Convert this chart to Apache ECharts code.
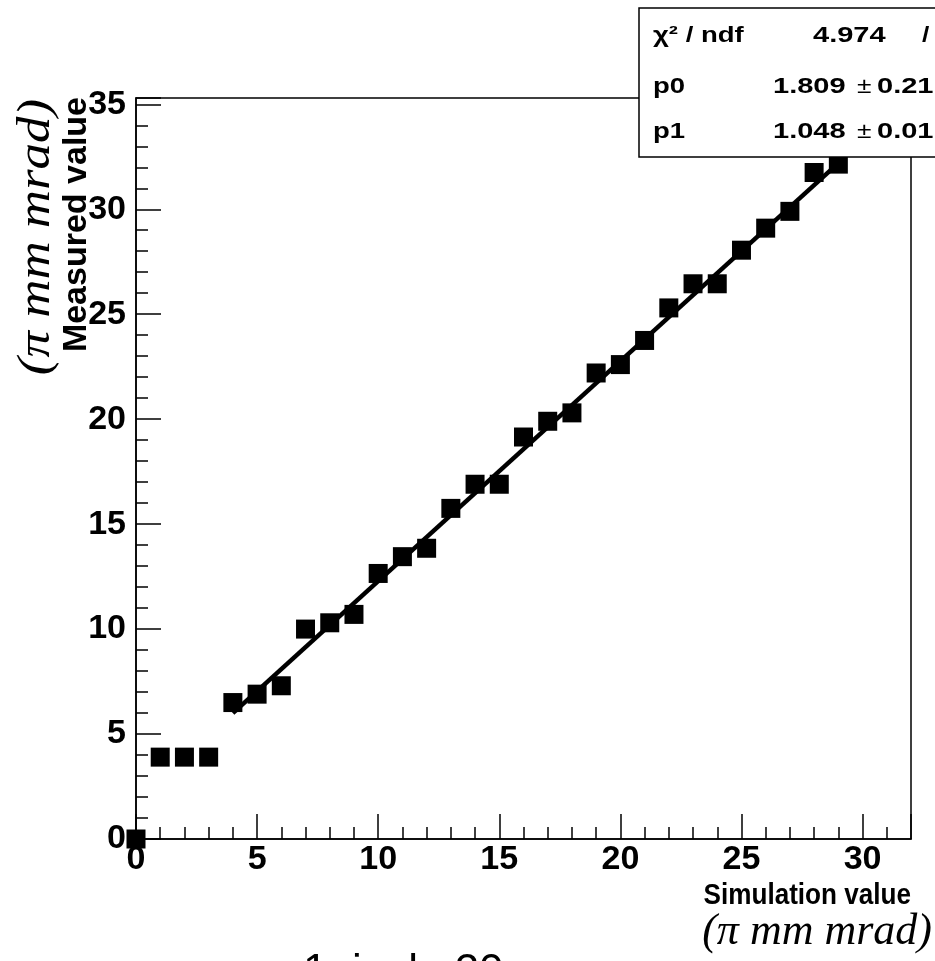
<!DOCTYPE html>
<html><head><meta charset="utf-8">
<script src="https://cdn.jsdelivr.net/npm/echarts@6/dist/echarts.min.js"></script>
<style>html,body{margin:0;padding:0;background:#fff}#c{width:935px;height:961px}</style>
</head><body><div id="c"></div>
<script>
// ---- data ----
const simValues = [0,1,2,3,4,5,6,7,8,9,10,11,12,13,14,15,16,17,18,19,20,21,22,23,24,25,26,27,28,29];
const measuredValues = [0,3.9,3.9,3.9,6.5,6.9,7.3,10.0,10.3,10.7,12.65,13.45,13.85,15.75,16.9,16.9,19.15,19.9,20.3,22.2,22.6,23.75,25.3,26.45,26.45,28.05,29.1,29.9,31.75,32.15];
const fitX = [4, 29];
const fitY = [6.0, 32.2];
const xTickLabels = [0,5,10,15,20,25,30];
const yTickLabels = [0,5,10,15,20,25,30,35];
const statNames = ['χ² / ndf', 'p0', 'p1'];
const statValues = ['4.974', '1.809', '1.048'];
const statSeps = ['/', '±', '±'];
const statErrors = ['', '0.21', '0.01'];
const xTitle = 'Simulation value';
const yTitle = 'Measured value';
const unitText = '(π mm mrad)';
const noteText = '1pixel : 20μm';

const FONT = '"Liberation Sans", Arial, Helvetica, sans-serif';
const SERIF = '"Liberation Serif", "Times New Roman", serif';

const chart = echarts.init(document.getElementById('c'), null, {renderer: 'canvas'});

function near(list, v){ return list.some(t => Math.abs(t - v) < 1e-6); }

const scatterData = simValues.map((x, i) => [x, measuredValues[i]]);
const fitData = fitX.map((x, i) => [x, fitY[i]]);

const rowY = [36, 87, 132];
const statGraphics = [];
statGraphics.push({type:'rect', x:639, y:8, shape:{x:0,y:0,width:330,height:149},
  style:{fill:'#fff', stroke:'#000', lineWidth:1.5}, z:100});
statNames.forEach((n, i) => {
  statGraphics.push({type:'text', x:653, y:rowY[i], scaleX:1.25, z:101,
    style:{text:n, fill:'#000', font:'bold 22px ' + FONT, textAlign:'left', textVerticalAlign:'middle'}});
});
statValues.forEach((v, i) => {
  statGraphics.push({type:'text', x:(i===0?813:773), y:rowY[i], scaleX:1.32, z:101,
    style:{text:v, fill:'#000', font:'bold 22px ' + FONT, textAlign:'left', textVerticalAlign:'middle'}});
  statGraphics.push({type:'text', x:(i===0?922:857), y:rowY[i], scaleX:1.2, z:101,
    style:{text:statSeps[i], fill:'#000', font:(i===0?'bold ':'') + '22px ' + FONT, textAlign:'left', textVerticalAlign:'middle'}});
  if (statErrors[i]) statGraphics.push({type:'text', x:877, y:rowY[i], scaleX:1.32, z:101,
    style:{text:statErrors[i], fill:'#000', font:'bold 22px ' + FONT, textAlign:'left', textVerticalAlign:'middle'}});
});

const option = {
  backgroundColor: '#fff',
  animation: false,
  grid: {left:136, right:24, top:98, bottom:122, show:true, borderColor:'#000', borderWidth:1.5, backgroundColor:'transparent'},
  xAxis: [
    {type:'value', min:0, max:32, interval:5, position:'bottom',
     axisLine:{show:true, lineStyle:{color:'#000', width:1.5}},
     axisTick:{show:true, inside:true, length:25, lineStyle:{color:'#000', width:1.5}},
     axisLabel:{show:true, margin:4, color:'#000', fontFamily:FONT, fontWeight:'bold', fontSize:34,
       formatter: v => near(xTickLabels, v) ? String(Math.round(v)) : ''},
     splitLine:{show:false}},
    {type:'value', min:0, max:32, interval:1, position:'bottom',
     axisLine:{show:false},
     axisTick:{show:true, inside:true, length:12, lineStyle:{color:'#000', width:1.5}},
     axisLabel:{show:false}, splitLine:{show:false}}
  ],
  yAxis: [
    {type:'value', min:0, max:35.3, interval:5, position:'left',
     axisLine:{show:true, lineStyle:{color:'#000', width:1.5}},
     axisTick:{show:true, inside:true, length:25, lineStyle:{color:'#000', width:1.5}},
     axisLabel:{show:true, margin:10, color:'#000', fontFamily:FONT, fontWeight:'bold', fontSize:34,
       formatter: v => near(yTickLabels, v) ? String(Math.round(v)) : ''},
     splitLine:{show:false}},
    {type:'value', min:0, max:35.3, interval:1, position:'left',
     axisLine:{show:false},
     axisTick:{show:true, inside:true, length:12, lineStyle:{color:'#000', width:1.5}},
     axisLabel:{show:false}, splitLine:{show:false}}
  ],
  series: [
    {type:'scatter', xAxisIndex:0, yAxisIndex:0, data:scatterData, symbol:'rect', symbolSize:19,
     itemStyle:{color:'#000', opacity:1}, emphasis:{disabled:true}, clip:false, z:3},
    {type:'line', xAxisIndex:0, yAxisIndex:0, data:fitData, showSymbol:false, symbol:'none',
     lineStyle:{color:'#000', width:4.5}, emphasis:{disabled:true}, z:4}
  ],
  graphic: [
    {type:'text', x:911, y:896, scaleX:0.87, style:{text:xTitle, fill:'#000', font:'bold 30px ' + FONT, textAlign:'right', textVerticalAlign:'middle'}},
    {type:'text', x:932, y:932, style:{text:unitText, fill:'#000', font:'italic 44px ' + SERIF, textAlign:'right', textVerticalAlign:'middle'}},
    {type:'text', x:77, y:97, rotation:Math.PI/2, style:{text:yTitle, fill:'#000', font:'bold 34px ' + FONT, textAlign:'right', textVerticalAlign:'middle'}},
    {type:'text', x:37, y:237, rotation:Math.PI/2, scaleX:1.15, style:{text:unitText, fill:'#000', font:'italic 46px ' + SERIF, textAlign:'center', textVerticalAlign:'middle'}},
    {type:'text', x:303, y:973, style:{text:noteText, fill:'#000', font:'44px ' + FONT, textAlign:'left', textVerticalAlign:'middle'}}
  ].concat(statGraphics)
};
chart.setOption(option);
</script>
</body></html>
